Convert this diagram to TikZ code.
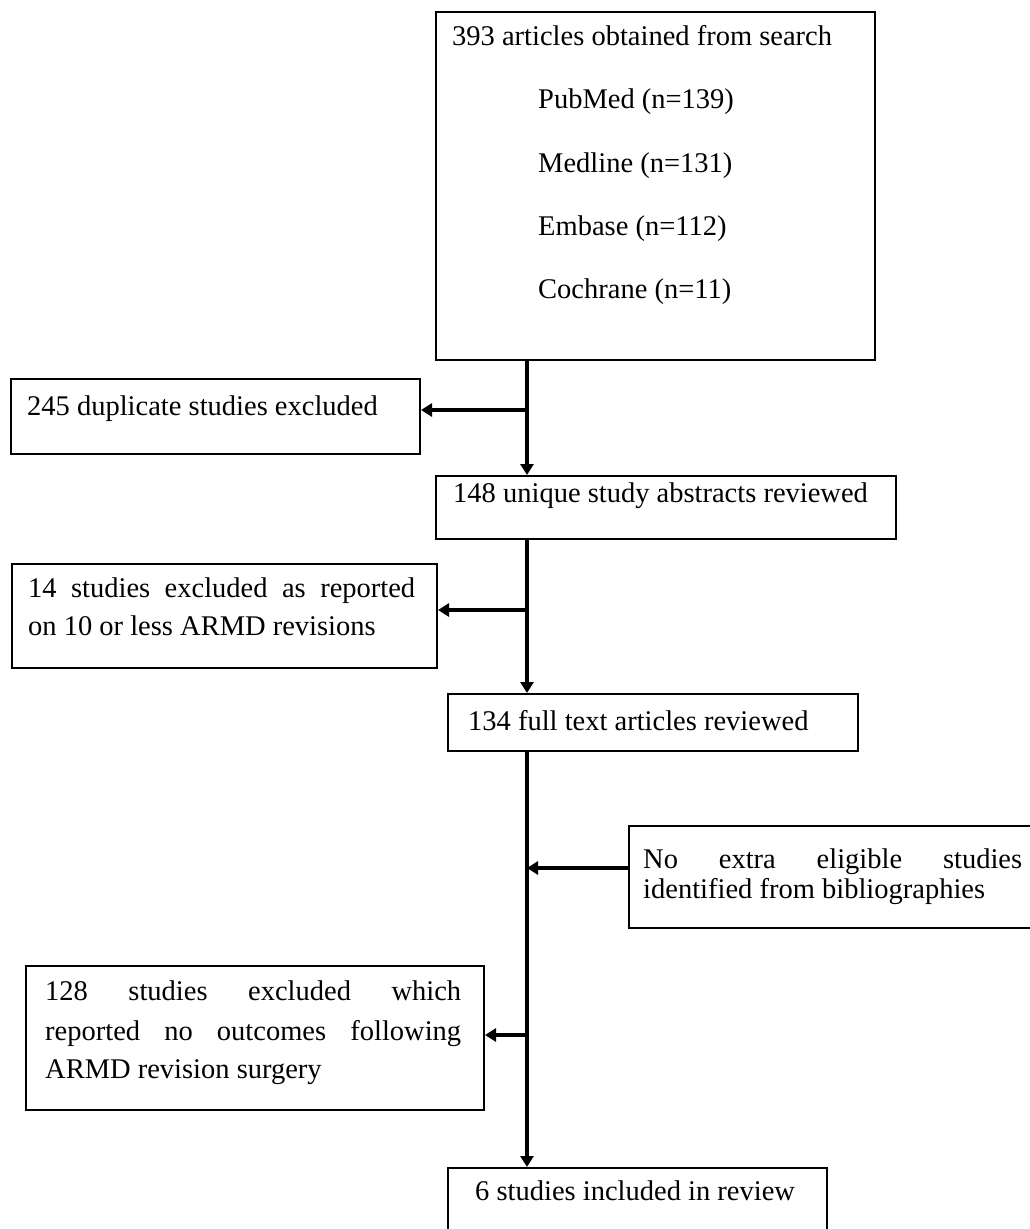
\documentclass[tikz,border=0pt]{standalone}
\usepackage{fontspec}
\setmainfont{Liberation Serif}
\usetikzlibrary{arrows.meta}
\begin{document}
\begin{tikzpicture}[x=1pt,y=-1pt,
  box/.style={draw=black, line width=2pt, fill=white, inner sep=0pt, anchor=north west},
  txt/.style={inner sep=0pt, anchor=base west, font=\fontsize{28.5}{34}\selectfont},
  conn/.style={line width=4pt},
  arr/.style={line width=4pt, -{Triangle[length=11pt,width=13pt]}}]
\useasboundingbox[fill=white] (0,0) rectangle (1030,1229);
% boxes
\node[box, minimum width=439pt, minimum height=348pt] (b1) at (435,11) {};
\node[box, minimum width=409pt, minimum height=75pt] (b245) at (10,378) {};
\node[box, minimum width=460pt, minimum height=63pt] (b148) at (435,475) {};
\node[box, minimum width=425pt, minimum height=104pt] (b14) at (11,563) {};
\node[box, minimum width=410pt, minimum height=57pt] (b134) at (447,693) {};
\node[box, minimum width=404pt, minimum height=102pt] (bno) at (628,825) {};
\node[box, minimum width=458pt, minimum height=144pt] (b128) at (25,965) {};
\node[box, minimum width=379pt, minimum height=65pt] (b6) at (447,1167) {};
% texts
\node[txt] (t1) at (452,45) {393 articles obtained from search};
\node[txt] (t1a) at (538,108) {PubMed (n=139)};
\node[txt] (t1b) at (538,172) {Medline (n=131)};
\node[txt] (t1c) at (538,235) {Embase (n=112)};
\node[txt] (t1d) at (538,298) {Cochrane (n=11)};
\node[txt] (t245) at (27,415) {245 duplicate studies excluded};
\node[txt] (t148) at (453,502) {148 unique study abstracts reviewed};
\node[txt] (t14a) at (28,597) {\hbox to 387pt{14\hfill studies\hfill excluded\hfill as\hfill reported}};
\node[txt] (t14b) at (28,635) {on 10 or less ARMD revisions};
\node[txt] (t134) at (468,730) {134 full text articles reviewed};
\node[txt] (tnoa) at (643,868) {\hbox to 379pt{No\hfill extra\hfill eligible\hfill studies}};
\node[txt] (tnob) at (643,898) {identified from bibliographies};
\node[txt] (t128a) at (45,1000) {\hbox to 416pt{128\hfill studies\hfill excluded\hfill which}};
\node[txt] (t128b) at (45,1040) {\hbox to 416pt{reported\hfill no\hfill outcomes\hfill following}};
\node[txt] (t128c) at (45,1078) {ARMD revision surgery};
\node[txt] (t6) at (475,1200) {6 studies included in review};
% junction coordinates on the main line
\coordinate (m) at (527,0);
\coordinate (j1) at (527,410);
\coordinate (j2) at (527,610);
\coordinate (j3) at (527,868);
\coordinate (j4) at (527,1035);
% connectors
\draw[arr] (b1.south -| m) -- (b148.north -| m);
\draw[arr] (j1) -- (j1 -| b245.east);
\draw[arr] (b148.south -| m) -- (b134.north -| m);
\draw[arr] (j2) -- (j2 -| b14.east);
\draw[arr] (b134.south -| m) -- (b6.north -| m);
\draw[arr] (bno.west |- j3) -- (j3);
\draw[arr] (j4) -- (j4 -| b128.east);
\end{tikzpicture}
\end{document}
